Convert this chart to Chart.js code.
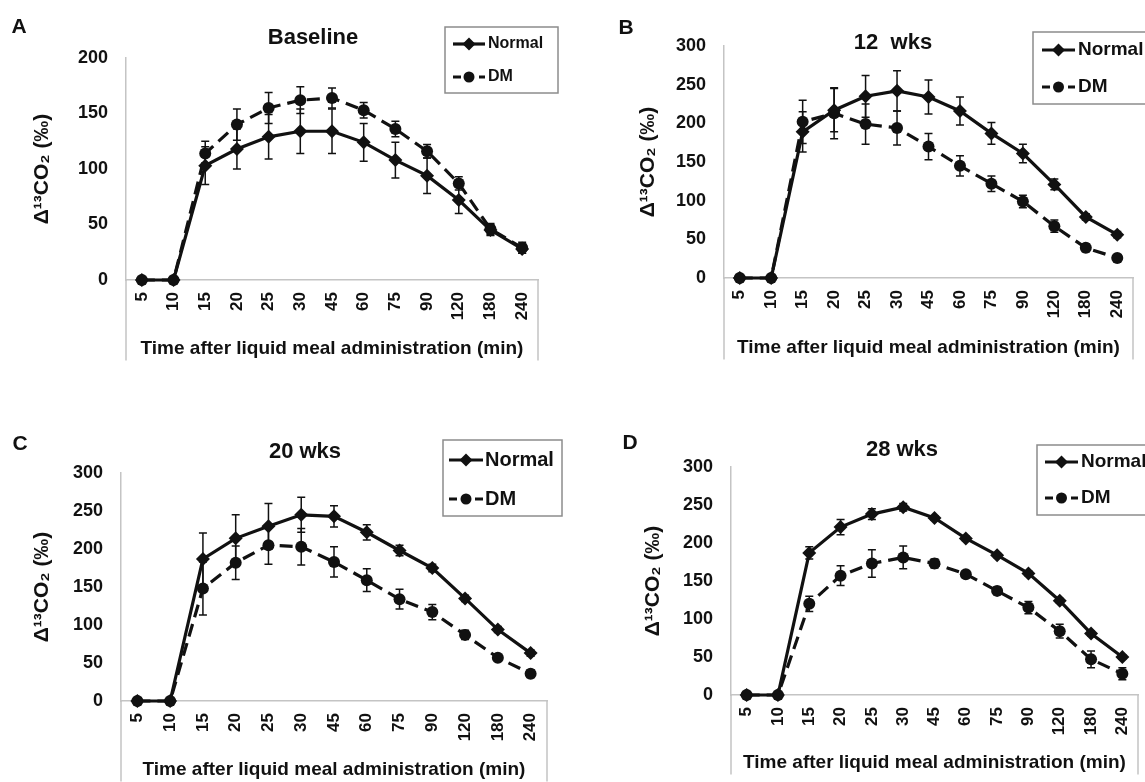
<!DOCTYPE html>
<html>
<head>
<meta charset="utf-8">
<title>Breath test curves</title>
<script src="https://cdn.jsdelivr.net/npm/chart.js@4.4.1/dist/chart.umd.min.js"></script>
<style>
  html, body { margin: 0; padding: 0; background: #fff; }
  #page { position: relative; width: 1145px; height: 782px; overflow: hidden; }
  #page canvas { position: absolute; left: 0; top: 0; }
  .tag { position: absolute; font: bold 21px "Liberation Sans", Arial, sans-serif; color: #111; transform: translate(-50%, -50%); }
</style>
</head>
<body>
<div id="page">
  <canvas id="chartA" width="1145" height="782"></canvas>
  <canvas id="chartB" width="1145" height="782"></canvas>
  <canvas id="chartC" width="1145" height="782"></canvas>
  <canvas id="chartD" width="1145" height="782"></canvas>
  <div class="tag" style="left:19px;top:26px">A</div>
  <div class="tag" style="left:626px;top:27px">B</div>
  <div class="tag" style="left:20px;top:443px">C</div>
  <div class="tag" style="left:630px;top:442px">D</div>
</div>
<script>
// time points (min)
var timeLabels = ["5", "10", "15", "20", "25", "30", "45", "60", "75", "90", "120", "180", "240"];
var yTicks = [0, 50, 100, 150, 200, 250, 300];

// Baseline
var normalA = [0, 0, 103, 118, 129, 134, 134, 124, 108, 94, 72, 45, 28];
var normalAErr = [0, 0, 17, 18, 20, 20, 20, 17, 16, 16, 12, 5, 4];
var dmA = [0, 0, 114, 140, 155, 162, 164, 153, 136, 116, 87, 46, 29];
var dmAErr = [0, 0, 11, 14, 14, 12, 9, 7, 7, 6, 6, 5, 5];

// 12 wks
var normalB = [0, 0, 189, 217, 235, 242, 234, 216, 187, 161, 121, 79, 56];
var normalBErr = [0, 0, 26, 28, 27, 26, 22, 18, 14, 12, 7, 4, 4];
var dmB = [0, 0, 202, 213, 199, 194, 170, 145, 122, 99, 67, 39, 26];
var dmBErr = [0, 0, 28, 33, 26, 22, 17, 13, 10, 8, 8, 5, 4];

// 20 wks
var normalC = [0, 0, 187, 214, 230, 245, 243, 222, 198, 175, 135, 94, 63];
var normalCErr = [0, 0, 34, 31, 30, 23, 14, 10, 7, 5, 4, 4, 4];
var dmC = [0, 0, 148, 182, 205, 203, 183, 159, 134, 117, 87, 57, 36];
var dmCErr = [0, 0, 35, 22, 25, 24, 20, 15, 13, 10, 6, 4, 5];

// 28 wks
var normalD = [0, 0, 187, 221, 238, 247, 233, 206, 184, 160, 124, 81, 50];
var normalDErr = [0, 0, 8, 10, 7, 5, 3, 3, 3, 3, 3, 3, 3];
var dmD = [0, 0, 120, 157, 173, 181, 173, 159, 137, 115, 84, 47, 28];
var dmDErr = [0, 0, 10, 13, 18, 15, 6, 4, 5, 8, 9, 11, 8];

var FONT = '"Liberation Sans", Arial, sans-serif';
var INK = "#111";
var AXIS_GREY = "#c4c4c4";

// vertical error bars with caps, drawn under the markers
var errorBars = {
  id: "errorBars",
  beforeDatasetsDraw: function (chart) {
    var ctx = chart.ctx, xs = chart.scales.x, ys = chart.scales.y;
    ctx.save();
    ctx.strokeStyle = INK;
    ctx.lineWidth = 1.5;
    chart.data.datasets.forEach(function (ds) {
      if (!ds.errors) return;
      ds.data.forEach(function (v, i) {
        var e = ds.errors[i];
        if (!e) return;
        var px = xs.getPixelForValue(i);
        var top = ys.getPixelForValue(v + e);
        var bot = ys.getPixelForValue(v - e);
        ctx.beginPath();
        ctx.moveTo(px, top); ctx.lineTo(px, bot);
        ctx.moveTo(px - 4, top); ctx.lineTo(px + 4, top);
        ctx.moveTo(px - 4, bot); ctx.lineTo(px + 4, bot);
        ctx.stroke();
      });
    });
    ctx.restore();
  }
};

// the open box round the category labels (Excel style)
var axisBox = {
  id: "axisBox",
  afterDraw: function (chart) {
    var a = chart.chartArea, xs = chart.scales.x, ctx = chart.ctx;
    ctx.save();
    ctx.strokeStyle = AXIS_GREY;
    ctx.lineWidth = 1.5;
    ctx.beginPath();
    ctx.moveTo(a.left, a.bottom); ctx.lineTo(a.left, xs.bottom);
    ctx.moveTo(a.right, a.bottom); ctx.lineTo(a.right, xs.bottom);
    ctx.stroke();
    ctx.restore();
  }
};

var panelTitle = {
  id: "panelTitle",
  afterDraw: function (chart, args, o) {
    var ctx = chart.ctx;
    ctx.save();
    ctx.fillStyle = INK;
    ctx.font = "bold 22px " + FONT;
    ctx.textAlign = "center";
    ctx.textBaseline = "middle";
    ctx.fillText(o.text, o.x, o.y);
    ctx.restore();
  }
};

// framed legend with line + marker samples
var boxLegend = {
  id: "boxLegend",
  afterDraw: function (chart, args, o) {
    var ctx = chart.ctx;
    ctx.save();
    ctx.strokeStyle = "#8c8c8c";
    ctx.lineWidth = 1.5;
    ctx.strokeRect(o.left, o.top, o.right - o.left, o.bottom - o.top);
    chart.data.datasets.forEach(function (ds, i) {
      var y = o.rows[i];
      ctx.strokeStyle = ds.borderColor;
      ctx.lineWidth = ds.borderWidth;
      ctx.setLineDash(ds.legendDash || []);
      ctx.beginPath();
      ctx.moveTo(o.sampleX, y);
      ctx.lineTo(o.sampleX + o.sampleLen, y);
      ctx.stroke();
      ctx.setLineDash([]);
      ctx.fillStyle = ds.pointBackgroundColor;
      Chart.helpers.drawPoint(ctx, { pointStyle: ds.pointStyle, radius: ds.pointRadius - 0.5, rotation: 0, borderWidth: 0 },
        o.sampleX + o.sampleLen / 2, y);
      ctx.fillStyle = INK;
      ctx.font = "bold " + o.fontSize + "px " + FONT;
      ctx.textAlign = "left";
      ctx.textBaseline = "middle";
      ctx.fillText(ds.label, o.textX, y);
    });
    ctx.restore();
  }
};

function makePanel(id, p) {
  var yTitleSize = 21, xTitleSize = 19;
  var yAxisW = p.area.left - p.yTitleX + yTitleSize * 1.2 / 2;
  var xAxisH = p.xTitleY - p.area.bottom + xTitleSize * 1.2 / 2;

  new Chart(document.getElementById(id), {
    type: "line",
    data: {
      labels: timeLabels,
      datasets: [{
        label: "Normal",
        data: p.normal,
        errors: p.normalErr,
        borderColor: INK,
        borderWidth: 3.2,
        pointStyle: "rectRot",
        pointRadius: 7,
        pointBackgroundColor: INK,
        pointBorderWidth: 0,
        clip: false
      }, {
        label: "DM",
        data: p.dm,
        errors: p.dmErr,
        borderColor: INK,
        borderWidth: 3.2,
        borderDash: [13, 7],
        legendDash: [8, 5],
        pointStyle: "circle",
        pointRadius: 6,
        pointBackgroundColor: INK,
        pointBorderWidth: 0,
        clip: false
      }]
    },
    options: {
      responsive: false,
      animation: false,
      events: [],
      layout: {
        padding: {
          left: p.area.left - yAxisW,
          top: p.area.top,
          right: 1145 - p.area.right,
          bottom: 782 - p.area.bottom - xAxisH
        }
      },
      plugins: {
        legend: { display: false },
        tooltip: { enabled: false },
        panelTitle: p.title,
        boxLegend: p.legend
      },
      scales: {
        x: {
          offset: true,
          grid: { display: false, drawTicks: false },
          border: { display: true, color: AXIS_GREY, width: 1.5 },
          ticks: {
            color: INK,
            font: { family: FONT, size: 17, weight: "bold" },
            minRotation: 90,
            maxRotation: 90,
            autoSkip: false,
            padding: 12
          },
          title: {
            display: true,
            text: "Time after liquid meal administration (min)",
            color: INK,
            font: { family: FONT, size: xTitleSize, weight: "bold" },
            padding: 0
          },
          afterFit: function (s) {
            s.height = xAxisH;
            s.paddingLeft = 0; s.paddingRight = 0;
          }
        },
        y: {
          min: 0,
          max: p.yMax,
          grid: { display: false, drawTicks: false },
          border: { display: true, color: AXIS_GREY, width: 1.5 },
          afterBuildTicks: function (s) {
            s.ticks = yTicks.filter(function (v) { return v <= p.yMax; }).map(function (v) { return { value: v }; });
          },
          ticks: {
            color: INK,
            font: { family: FONT, size: 18, weight: "bold" },
            padding: 18
          },
          title: {
            display: true,
            text: "\u0394\u00B9\u00B3CO\u2082 (\u2030)",
            color: INK,
            font: { family: FONT, size: yTitleSize, weight: "bold" },
            padding: 0
          },
          afterFit: function (s) {
            s.width = yAxisW;
            s.paddingTop = 0; s.paddingBottom = 0;
          }
        }
      }
    },
    plugins: [errorBars, axisBox, panelTitle, boxLegend]
  });
}

makePanel("chartA", {
  normal: normalA, normalErr: normalAErr, dm: dmA, dmErr: dmAErr, yMax: 200,
  area: { left: 126, top: 58, right: 538, bottom: 280 }, yTitleX: 42, xTitleY: 349,
  title: { text: "Baseline", x: 313, y: 38 },
  legend: { left: 445, top: 27, right: 558, bottom: 93, rows: [44, 77], sampleX: 453, sampleLen: 32, textX: 488, fontSize: 16 }
});

makePanel("chartB", {
  normal: normalB, normalErr: normalBErr, dm: dmB, dmErr: dmBErr, yMax: 300,
  area: { left: 724, top: 46, right: 1133, bottom: 278 }, yTitleX: 648, xTitleY: 348,
  title: { text: "12  wks", x: 893, y: 43 },
  legend: { left: 1033, top: 32, right: 1160, bottom: 104, rows: [50, 87], sampleX: 1042, sampleLen: 33, textX: 1078, fontSize: 19 }
});

makePanel("chartC", {
  normal: normalC, normalErr: normalCErr, dm: dmC, dmErr: dmCErr, yMax: 300,
  area: { left: 121, top: 473, right: 547, bottom: 701 }, yTitleX: 42, xTitleY: 770,
  title: { text: "20 wks", x: 305, y: 452 },
  legend: { left: 443, top: 440, right: 562, bottom: 516, rows: [460, 499], sampleX: 449, sampleLen: 34, textX: 485, fontSize: 20 }
});

makePanel("chartD", {
  normal: normalD, normalErr: normalDErr, dm: dmD, dmErr: dmDErr, yMax: 300,
  area: { left: 731, top: 467, right: 1141, bottom: 695 }, yTitleX: 653, xTitleY: 763,
  title: { text: "28 wks", x: 902, y: 450 },
  legend: { left: 1037, top: 445, right: 1160, bottom: 515, rows: [462, 498], sampleX: 1045, sampleLen: 33, textX: 1081, fontSize: 19 }
});
</script>
</body>
</html>
